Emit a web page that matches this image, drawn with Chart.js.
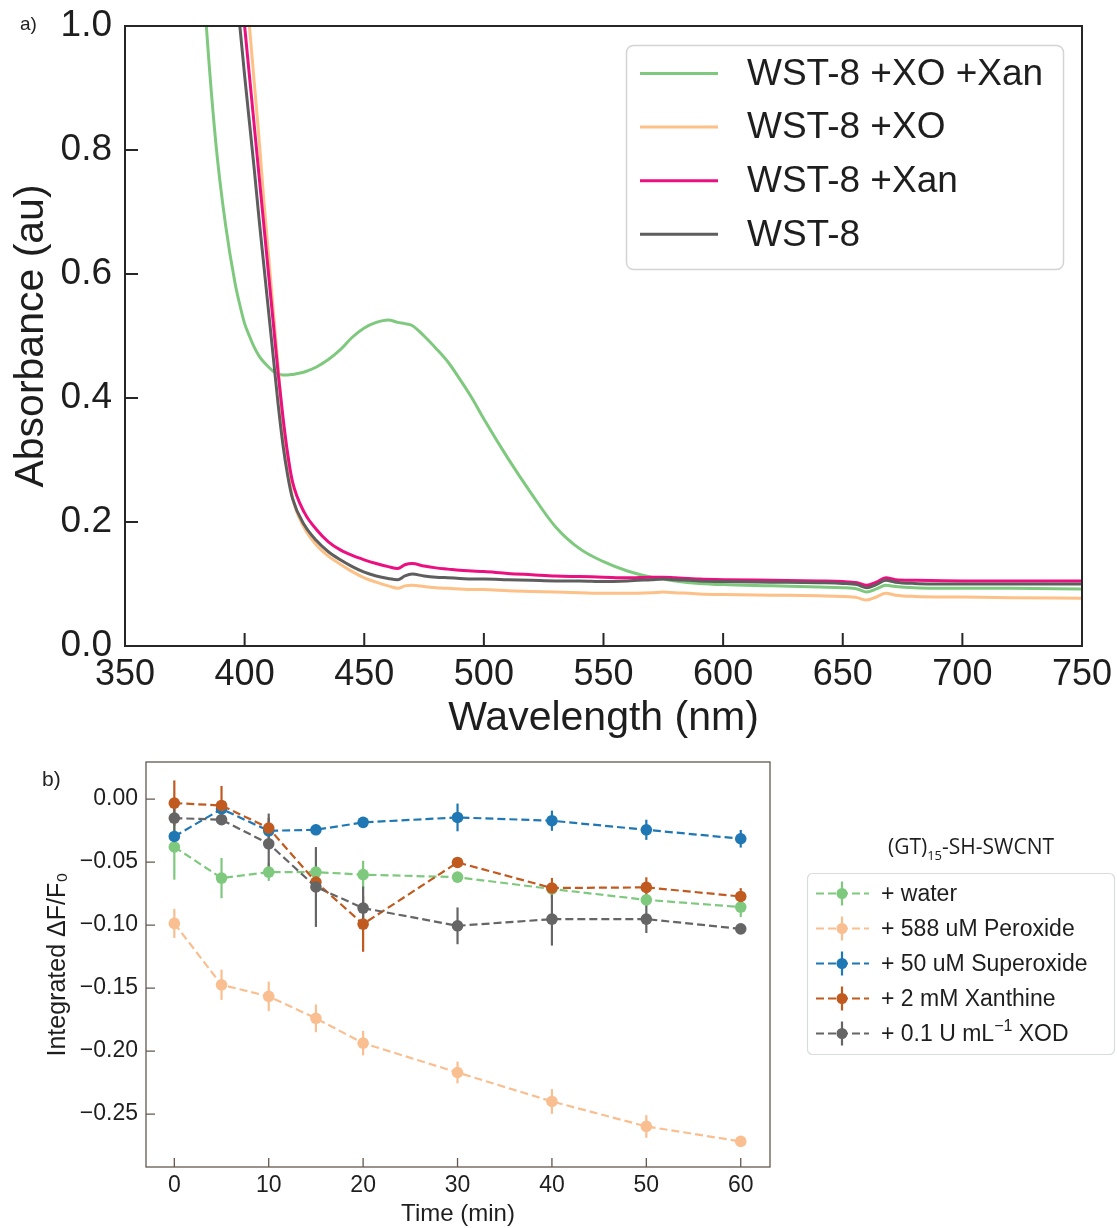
<!DOCTYPE html>
<html><head><meta charset="utf-8">
<script src="https://cdn.jsdelivr.net/npm/chart.js@4.4.0/dist/chart.umd.min.js"></script>
<style>
body{margin:0;background:#fff;width:1117px;height:1228px;position:relative;overflow:hidden;font-family:"Liberation Sans",Arial,sans-serif;}
.wrap{position:absolute;left:0;}
canvas{display:block;}
.lbl{position:absolute;color:#222;line-height:1;}
</style></head><body>
<div class="wrap" style="top:0;width:1117px;height:745px"><canvas id="c1" width="1117" height="745"></canvas></div>
<div class="wrap" style="top:745px;width:1117px;height:483px"><canvas id="c2" width="1117" height="483"></canvas></div>
<div class="lbl" style="left:20px;top:14px;font-size:19px">a)</div>
<div class="lbl" style="left:42px;top:768px;font-size:21px">b)</div>
<script>
// ---------- Panel a: absorbance spectra ----------
const wavelengths = [380,384,388,392,396,398,400,402,404,406,408,410,412,414,416,418,420,425,430,435,440,445,450,455,460,464,467,470,475,480,485,490,495,500,510,520,530,540,550,560,570,575,580,590,600,620,640,650,656,660,664,668,672,680,700,720,750];
const absWST8XOXan = [1.25,1.0,0.81,0.68,0.585,0.55,0.52,0.5,0.482,0.468,0.458,0.45,0.443,0.439,0.437,0.437,0.438,0.442,0.450,0.462,0.478,0.498,0.513,0.522,0.526,0.522,0.520,0.517,0.500,0.480,0.458,0.430,0.400,0.366,0.303,0.245,0.192,0.157,0.136,0.121,0.111,0.108,0.105,0.101,0.099,0.097,0.095,0.094,0.092,0.087,0.092,0.098,0.096,0.094,0.093,0.093,0.092];
const absWST8XO = [1.85,1.70,1.55,1.39,1.23,1.15,1.08,1.00,0.91,0.82,0.72,0.63,0.54,0.45,0.36,0.29,0.24,0.19,0.163,0.145,0.132,0.120,0.110,0.103,0.097,0.093,0.097,0.098,0.096,0.094,0.093,0.092,0.091,0.091,0.089,0.088,0.087,0.086,0.085,0.085,0.086,0.087,0.086,0.084,0.083,0.082,0.081,0.080,0.078,0.074,0.079,0.085,0.082,0.080,0.079,0.078,0.077];
const absWST8Xan = [1.80,1.65,1.50,1.33,1.16,1.08,1.00,0.92,0.84,0.76,0.68,0.60,0.52,0.44,0.37,0.31,0.265,0.215,0.188,0.168,0.155,0.146,0.139,0.133,0.128,0.125,0.131,0.133,0.129,0.126,0.124,0.122,0.121,0.120,0.117,0.115,0.113,0.112,0.111,0.110,0.111,0.111,0.110,0.108,0.107,0.106,0.105,0.104,0.102,0.098,0.103,0.110,0.107,0.106,0.105,0.105,0.105];
const absWST8 = [1.70,1.55,1.39,1.23,1.08,1.00,0.92,0.845,0.77,0.69,0.615,0.54,0.465,0.39,0.325,0.275,0.238,0.195,0.170,0.152,0.139,0.128,0.119,0.113,0.109,0.107,0.113,0.116,0.113,0.111,0.110,0.109,0.108,0.108,0.107,0.106,0.105,0.105,0.104,0.105,0.107,0.108,0.107,0.105,0.104,0.103,0.102,0.101,0.099,0.094,0.099,0.106,0.103,0.101,0.100,0.100,0.100];
const spectraLabels = ['WST-8 +XO +Xan','WST-8 +XO','WST-8 +Xan','WST-8'];
const wavelengthTicks = {min:350, max:750, step:50};
const absTicks = {min:0, max:1, step:0.2};

// ---------- Panel b: fluorescence time course ----------
const timesMin = [0,5,10,15,20,30,40,50,60];
const water = [-0.038,-0.0627,-0.058,-0.058,-0.060,-0.062,-0.0714,-0.080,-0.0857];
const waterErr = [0.026,0.016,0.007,0.005,0.011,0.004,0.004,0.005,0.008];
const peroxide = [-0.0987,-0.1474,-0.1566,-0.174,-0.1937,-0.217,-0.240,-0.2598,-0.2717];
const peroxideErr = [0.0115,0.012,0.0117,0.011,0.0097,0.0086,0.0098,0.009,0.004];
const superoxide = [-0.0297,-0.0079,-0.0252,-0.0244,-0.0185,-0.0146,-0.0172,-0.0244,-0.0315];
const superoxideErr = [0.005,0.004,0.004,0.004,0.003,0.011,0.008,0.008,0.007];
const xanthine = [-0.0032,-0.0051,-0.023,-0.0659,-0.0992,-0.0503,-0.0706,-0.0701,-0.0773];
const xanthineErr = [0.018,0.0155,0.008,0.004,0.022,0.004,0.008,0.008,0.0066];
const xod = [-0.0151,-0.0164,-0.0355,-0.0698,-0.0865,-0.1006,-0.0953,-0.0953,-0.103];
const xodErr = [0.01,0.004,0.024,0.0317,0.017,0.0146,0.021,0.011,0.003];
const timeLabels = ['+ water','+ 588 uM Peroxide','+ 50 uM Superoxide','+ 2 mM Xanthine','+ 0.1 U mL⁻¹ XOD'];
const timeTicks = {min:-3, max:63.1, step:10};
const dfTicks = {min:-0.292, max:0.0294, step:0.05};

const FONT = '"Liberation Sans", Arial, Helvetica, sans-serif';
const TXT = '#1e1e1e';
function pts(xs, ys){ return xs.map((x,i)=>({x:x, y:ys[i]})); }
function noPad(s){ s.paddingTop = 0; s.paddingBottom = 0; s.paddingLeft = 0; s.paddingRight = 0; }

const framePlugin = {
  id:'frame',
  afterDraw(chart, args, o){
    const {ctx, chartArea:a, scales} = chart;
    ctx.save();
    ctx.strokeStyle = o.color; ctx.lineWidth = o.width;
    ctx.strokeRect(a.left, a.top, a.right-a.left, a.bottom-a.top);
    ctx.beginPath();
    scales.x.ticks.forEach(t=>{ const px = scales.x.getPixelForValue(t.value); ctx.moveTo(px, a.bottom); ctx.lineTo(px, a.bottom - o.len); });
    scales.y.ticks.forEach(t=>{ const py = scales.y.getPixelForValue(t.value); ctx.moveTo(a.left, py); ctx.lineTo(a.left + o.len, py); });
    ctx.stroke();
    ctx.restore();
  }
};

function roundRect(ctx, x, y, w, h, r){
  ctx.beginPath();
  ctx.moveTo(x+r, y); ctx.lineTo(x+w-r, y); ctx.arcTo(x+w, y, x+w, y+r, r);
  ctx.lineTo(x+w, y+h-r); ctx.arcTo(x+w, y+h, x+w-r, y+h, r);
  ctx.lineTo(x+r, y+h); ctx.arcTo(x, y+h, x, y+h-r, r);
  ctx.lineTo(x, y+r); ctx.arcTo(x, y, x+r, y, r); ctx.closePath();
}

const legendTop = {
  id:'legendTop',
  afterDraw(chart){
    const ctx = chart.ctx;
    ctx.save();
    roundRect(ctx, 626.5, 45.5, 437, 224, 7);
    ctx.fillStyle = 'rgba(255,255,255,0.85)'; ctx.fill();
    ctx.strokeStyle = '#d4d4d4'; ctx.lineWidth = 1.5; ctx.stroke();
    chart.data.datasets.forEach((ds,i)=>{
      const y = 73.5 + i*53.6;
      ctx.strokeStyle = ds.borderColor; ctx.lineWidth = 3;
      ctx.beginPath(); ctx.moveTo(640, y); ctx.lineTo(718, y); ctx.stroke();
      ctx.fillStyle = TXT; ctx.font = '37px ' + FONT; ctx.textBaseline = 'middle'; ctx.textAlign = 'left';
      ctx.fillText(ds.label, 747, y + 1);
    });
    ctx.restore();
  }
};

const errorBars = {
  id:'errorBars',
  beforeDatasetsDraw(chart){
    const {ctx, scales:{x, y}} = chart;
    ctx.save(); ctx.lineWidth = 2.2;
    chart.data.datasets.forEach(ds=>{
      ctx.strokeStyle = ds.borderColor;
      ds.data.forEach((p,i)=>{
        const e = ds.errs[i]; const px = x.getPixelForValue(p.x);
        ctx.beginPath(); ctx.moveTo(px, y.getPixelForValue(p.y + e)); ctx.lineTo(px, y.getPixelForValue(p.y - e)); ctx.stroke();
      });
    });
    ctx.restore();
  }
};

const legendBottom = {
  id:'legendBottom',
  afterDraw(chart){
    const ctx = chart.ctx;
    ctx.save();
    ctx.fillStyle = TXT; ctx.textBaseline = 'middle'; ctx.textAlign = 'left';
    const tf = '21px "Open Sans", ' + FONT, sf = '13px "Open Sans", ' + FONT;
    ctx.font = tf; const w1 = ctx.measureText('(GT)').width; const w3 = ctx.measureText('-SH-SWCNT').width;
    ctx.font = sf; const w2 = ctx.measureText('15').width;
    let x0 = 971 - (w1 + w2 + w3)/2; const ty = 103;
    ctx.font = tf; ctx.fillText('(GT)', x0, ty);
    ctx.font = sf; ctx.fillText('15', x0 + w1, ty + 8);
    ctx.font = tf; ctx.fillText('-SH-SWCNT', x0 + w1 + w2, ty);
    roundRect(ctx, 807.5, 128.5, 307, 181, 5);
    ctx.fillStyle = 'rgba(255,255,255,0.85)'; ctx.fill();
    ctx.strokeStyle = '#d8dcdc'; ctx.lineWidth = 1.2; ctx.stroke();
    chart.data.datasets.forEach((ds,i)=>{
      const y = 148.5 + i*35;
      ctx.strokeStyle = ds.borderColor; ctx.lineWidth = 2.2;
      ctx.setLineDash([8,4]);
      ctx.beginPath(); ctx.moveTo(816, y); ctx.lineTo(869, y); ctx.stroke();
      ctx.setLineDash([]);
      ctx.beginPath(); ctx.moveTo(842, y-12); ctx.lineTo(842, y+12); ctx.stroke();
      ctx.fillStyle = ds.borderColor; ctx.beginPath(); ctx.arc(842, y, 5.5, 0, Math.PI*2); ctx.fill();
      ctx.fillStyle = TXT; ctx.font = '23px ' + FONT; ctx.textBaseline = 'middle';
      const parts = ds.label.split('⁻¹');
      if (parts.length === 2){
        ctx.fillText(parts[0], 881, y + 1);
        let xx = 881 + ctx.measureText(parts[0]).width;
        ctx.font = '16px ' + FONT; ctx.fillText('−1', xx, y - 7);
        xx += ctx.measureText('−1').width;
        ctx.font = '23px ' + FONT; ctx.fillText(parts[1], xx, y + 1);
      } else {
        ctx.fillText(ds.label, 881, y + 1);
      }
    });
    ctx.restore();
  }
};

const spectraColors = ['#7fc97f','#fdc086','#ec0f80','#5e5e5e'];
const spectraSeries = [absWST8XOXan, absWST8XO, absWST8Xan, absWST8];

new Chart(document.getElementById('c1'), {
  type:'line',
  data:{ datasets: spectraSeries.map((s,i)=>({
    label: spectraLabels[i], data: pts(wavelengths, s), borderColor: spectraColors[i], backgroundColor: spectraColors[i],
    borderWidth: 3, pointRadius: 0, cubicInterpolationMode:'monotone', fill:false, order: 4 - i
  }))},
  options:{
    responsive:false, animation:false, events:[],
    layout:{ padding:{ top:26, right:35, left:0, bottom:0 } },
    plugins:{ legend:{display:false}, tooltip:{enabled:false}, frame:{color:'#262626', width:2, len:13} },
    scales:{
      x:{ type:'linear', min:wavelengthTicks.min, max:wavelengthTicks.max,
        grid:{display:false, drawTicks:false}, border:{display:false},
        ticks:{ stepSize:wavelengthTicks.step, autoSkip:false, maxRotation:0, padding:7, color:TXT, font:{family:FONT, size:36} },
        title:{ display:true, text:'Wavelength (nm)', color:TXT, font:{family:FONT, size:41}, padding:{top:0, bottom:2} },
        afterFit(s){ s.height = 99; noPad(s); } },
      y:{ type:'linear', min:absTicks.min, max:absTicks.max,
        grid:{display:false, drawTicks:false}, border:{display:false},
        ticks:{ stepSize:absTicks.step, autoSkip:false, padding:13, color:TXT, font:{family:FONT, size:37}, callback:v=>v.toFixed(1) },
        title:{ display:true, text:'Absorbance (au)', color:TXT, font:{family:FONT, size:41}, padding:{top:7, bottom:0} },
        afterFit(s){ s.width = 125; noPad(s); } }
    }
  },
  plugins:[framePlugin, legendTop]
});

const timeColors = ['#7fc97f','#f9bf90','#1f77b4','#c05a1f','#656565'];
const timeSeries = [water, peroxide, superoxide, xanthine, xod];
const timeErrs = [waterErr, peroxideErr, superoxideErr, xanthineErr, xodErr];

new Chart(document.getElementById('c2'), {
  type:'line',
  data:{ datasets: timeSeries.map((s,i)=>({
    label: timeLabels[i], data: pts(timesMin, s), errs: timeErrs[i],
    borderColor: timeColors[i], backgroundColor: timeColors[i], pointBackgroundColor: timeColors[i], pointBorderColor: timeColors[i],
    borderWidth: 2.2, borderDash:[8,4], pointRadius: 5.8, pointBorderWidth: 0, tension: 0, fill:false, order: 5 - i
  }))},
  options:{
    responsive:false, animation:false, events:[],
    layout:{ padding:{ top:17, right:347, left:0, bottom:0 } },
    plugins:{ legend:{display:false}, tooltip:{enabled:false}, frame:{color:'#645850', width:1.3, len:9} },
    scales:{
      x:{ type:'linear', min:timeTicks.min, max:timeTicks.max,
        grid:{display:false, drawTicks:false}, border:{display:false},
        ticks:{ stepSize:timeTicks.step, includeBounds:false, autoSkip:false, maxRotation:0, padding:5, color:TXT, font:{family:FONT, size:23} },
        title:{ display:true, text:'Time (min)', color:TXT, font:{family:FONT, size:24, lineHeight:1.1}, padding:{top:0, bottom:0} },
        afterFit(s){ s.height = 61; noPad(s); } },
      y:{ type:'linear', min:dfTicks.min, max:dfTicks.max,
        grid:{display:false, drawTicks:false}, border:{display:false},
        ticks:{ stepSize:dfTicks.step, includeBounds:false, autoSkip:false, padding:8, color:TXT, font:{family:FONT, size:23},
          callback:v=>(v < -1e-9 ? '−' : '') + Math.abs(v).toFixed(2) },
        title:{ display:true, text:'Integrated ΔF/F₀', color:TXT, font:{family:FONT, size:25}, padding:{top:43, bottom:0} },
        afterFit(s){ s.width = 146; noPad(s); } }
    }
  },
  plugins:[framePlugin, errorBars, legendBottom]
});
</script>
</body></html>
